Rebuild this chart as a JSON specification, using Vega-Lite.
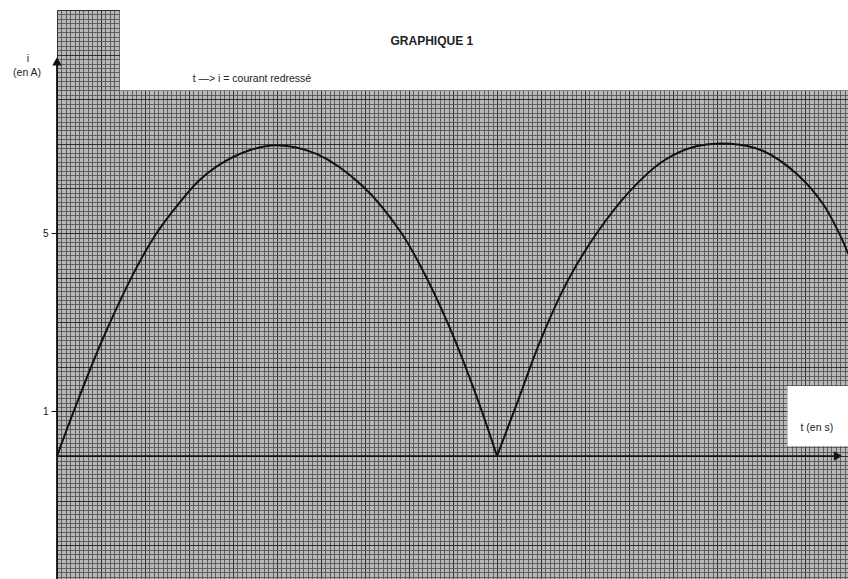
{
  "$schema": "https://vega.github.io/schema/vega-lite/v6.json",
  "width": 792,
  "height": 571,
  "autosize": {"type": "none"},
  "padding": {"left": 57, "top": 10, "right": 0, "bottom": 0},
  "background": "white",
  "config": {
    "view": {"fill": "#b8b8b8", "stroke": null},
    "font": "Liberation Sans"
  },
  "datasets": {
    "curve": [
      {"arch": 1, "t": 0, "i": 0}, {"arch": 1, "t": 0.41, "i": 1.08}, {"arch": 1, "t": 1.02, "i": 2.58}, {"arch": 1, "t": 1.73, "i": 4.08},
      {"arch": 1, "t": 2.2, "i": 4.9}, {"arch": 1, "t": 2.64, "i": 5.5}, {"arch": 1, "t": 3.2, "i": 6.15}, {"arch": 1, "t": 3.64, "i": 6.5},
      {"arch": 1, "t": 4.39, "i": 6.86}, {"arch": 1, "t": 5.0, "i": 6.97}, {"arch": 1, "t": 5.91, "i": 6.77},
      {"arch": 1, "t": 6.95, "i": 6.05}, {"arch": 1, "t": 7.8, "i": 5.04}, {"arch": 1, "t": 8.32, "i": 4.15}, {"arch": 1, "t": 8.93, "i": 2.87},
      {"arch": 1, "t": 9.55, "i": 1.3}, {"arch": 1, "t": 10, "i": 0},
      {"arch": 2, "t": 10, "i": 0}, {"arch": 2, "t": 10.45, "i": 1.17}, {"arch": 2, "t": 10.98, "i": 2.57}, {"arch": 2, "t": 11.59, "i": 3.9},
      {"arch": 2, "t": 12.27, "i": 5.0}, {"arch": 2, "t": 13.02, "i": 5.94}, {"arch": 2, "t": 13.77, "i": 6.61}, {"arch": 2, "t": 14.55, "i": 6.95},
      {"arch": 2, "t": 15.3, "i": 7.0}, {"arch": 2, "t": 16.05, "i": 6.84}, {"arch": 2, "t": 16.82, "i": 6.32}, {"arch": 2, "t": 17.41, "i": 5.65},
      {"arch": 2, "t": 17.86, "i": 4.82}, {"arch": 2, "t": 17.98, "i": 4.53}
    ],
    "boxes": [
      {"t": 1.43, "t2": 18, "i": 8.2, "i2": 10},
      {"t": 16.6, "t2": 18, "i": 0.22, "i2": 1.57}
    ],
    "axes": [
      {"t": 0, "t2": 17.7, "i": 0, "i2": 0},
      {"t": 0, "t2": 0, "i": -2.8, "i2": 8.8}
    ],
    "arrows": [
      {"kind": "x", "t": 17.75, "i": 0},
      {"kind": "y", "t": 0, "i": 8.85}
    ],
    "labels": [
      {"kind": "title", "t": 8.52, "i": 9.3, "text": "GRAPHIQUE 1"},
      {"kind": "sub", "t": 4.43, "i": 8.45, "text": "t —> i = courant redressé"},
      {"kind": "sub", "t": -0.66, "i": 8.9, "text": "i"},
      {"kind": "sub", "t": -0.68, "i": 8.59, "text": "(en A)"},
      {"kind": "sub", "t": 17.27, "i": 0.63, "text": "t (en s)"}
    ]
  },
  "encoding": {
    "x": {
      "field": "t", "type": "quantitative",
      "scale": {"domain": [0, 18], "nice": false, "zero": false},
      "axis": {
        "title": null, "labels": false, "ticks": false, "domain": false,
        "tickCount": 180, "grid": true,
        "gridColor": {"condition": {"test": "abs(datum.value - round(datum.value)) < 0.01", "value": "#1a1a1a"}, "value": "#505050"},
        "gridWidth": 1, "gridOpacity": 0.85
      }
    },
    "y": {
      "field": "i", "type": "quantitative",
      "scale": {"domain": [-2.8, 10], "nice": false, "zero": false},
      "axis": {
        "title": null, "domain": false, "tickCount": 128, "grid": true,
        "gridColor": {"condition": {"test": "abs(datum.value - round(datum.value)) < 0.01", "value": "#1a1a1a"}, "value": "#505050"},
        "gridWidth": 1, "gridOpacity": 0.85,
        "labelOverlap": false,
        "labelExpr": "abs(datum.value - 1) < 0.01 ? '1' : abs(datum.value - 5) < 0.01 ? '5' : ''",
        "labelFontSize": 10, "labelColor": "#111", "labelPadding": 3,
        "tickSize": 6, "tickColor": "#111",
        "tickOpacity": {"condition": {"test": "abs(datum.value - 1) < 0.01 || abs(datum.value - 5) < 0.01", "value": 1}, "value": 0}
      }
    }
  },
  "layer": [
    {
      "data": {"name": "boxes"},
      "mark": {"type": "rect", "fill": "white", "stroke": null},
      "encoding": {"x2": {"field": "t2"}, "y2": {"field": "i2"}}
    },
    {
      "data": {"name": "axes"},
      "mark": {"type": "rule", "color": "#111", "strokeWidth": 1.8},
      "encoding": {"x2": {"field": "t2"}, "y2": {"field": "i2"}}
    },
    {
      "data": {"name": "curve"},
      "mark": {"type": "line", "color": "#111", "strokeWidth": 2, "interpolate": "catmull-rom"},
      "encoding": {"detail": {"field": "arch", "type": "nominal"}}
    },
    {
      "data": {"name": "arrows"},
      "transform": [{"filter": "datum.kind == 'x'"}],
      "mark": {"type": "point", "shape": "triangle-right", "filled": true, "color": "#111", "size": 90, "opacity": 1},
      "encoding": {}
    },
    {
      "data": {"name": "arrows"},
      "transform": [{"filter": "datum.kind == 'y'"}],
      "mark": {"type": "point", "shape": "triangle-up", "filled": true, "color": "#111", "size": 90, "opacity": 1},
      "encoding": {}
    },
    {
      "data": {"name": "labels"},
      "transform": [{"filter": "datum.kind == 'title'"}],
      "mark": {"type": "text", "fontSize": 12, "fontWeight": "bold", "color": "#222", "align": "center", "baseline": "middle"},
      "encoding": {"text": {"field": "text"}}
    },
    {
      "data": {"name": "labels"},
      "transform": [{"filter": "datum.kind == 'sub'"}],
      "mark": {"type": "text", "fontSize": 10.5, "color": "#222", "align": "center", "baseline": "middle"},
      "encoding": {"text": {"field": "text"}}
    }
  ]
}
